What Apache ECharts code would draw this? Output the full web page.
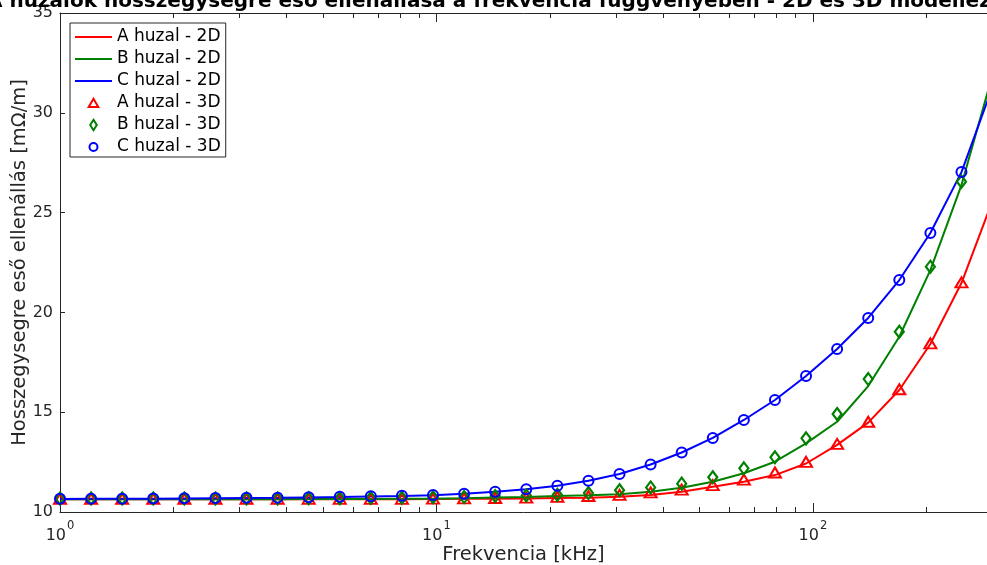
<!DOCTYPE html>
<html>
<head>
<meta charset="utf-8">
<script src="https://cdn.jsdelivr.net/npm/echarts@6/dist/echarts.min.js"></script>
<style>
html,body{margin:0;padding:0;background:#fff;overflow:hidden;}
#chart{width:987px;height:565px;}
</style>
</head>
<body>
<div id="chart"></div>
<script>
// Frequencies [kHz] (31 log-spaced points, 1 ... 300)
const freq = [1, 1.2094, 1.4627, 1.7690, 2.1395, 2.5874, 3.1291, 3.7845, 4.5771, 5.5352,
  6.6943, 8.0962, 9.7914, 11.842, 14.321, 17.321, 20.948, 25.335, 30.640, 37.056,
  44.814, 54.199, 65.548, 79.274, 95.875, 115.95, 140.23, 169.60, 205.11, 248.06, 300];

const a2D = [10.64, 10.64, 10.64, 10.64, 10.64, 10.64, 10.64, 10.64, 10.64, 10.64,
  10.64, 10.64, 10.65, 10.66, 10.67, 10.68, 10.70, 10.72, 10.76, 10.85,
  11.02, 11.27, 11.52, 11.85, 12.43, 13.36, 14.48, 16.11, 18.42, 21.47, 25.6];
const b2D = [10.64, 10.64, 10.64, 10.64, 10.64, 10.64, 10.64, 10.64, 10.65, 10.65,
  10.65, 10.66, 10.67, 10.69, 10.73, 10.75, 10.80, 10.84, 10.89, 11.02,
  11.22, 11.52, 11.94, 12.52, 13.44, 14.52, 16.31, 18.78, 22.12, 26.38, 31.9];
const c2D = [10.65, 10.66, 10.66, 10.67, 10.68, 10.69, 10.70, 10.71, 10.73, 10.75,
  10.78, 10.80, 10.84, 10.91, 11.01, 11.14, 11.32, 11.57, 11.90, 12.38,
  12.98, 13.71, 14.61, 15.61, 16.81, 18.17, 19.72, 21.62, 23.98, 27.03, 31.3];

const a3D = [10.66, 10.66, 10.66, 10.66, 10.66, 10.66, 10.66, 10.66, 10.66, 10.66,
  10.66, 10.66, 10.67, 10.68, 10.70, 10.72, 10.76, 10.80, 10.86, 10.98,
  11.12, 11.35, 11.62, 11.98, 12.51, 13.41, 14.52, 16.15, 18.45, 21.50, 25.7];
const b3D = [10.68, 10.68, 10.68, 10.68, 10.68, 10.68, 10.68, 10.68, 10.69, 10.69,
  10.70, 10.71, 10.74, 10.75, 10.80, 10.83, 10.86, 10.95, 11.09, 11.23,
  11.42, 11.74, 12.19, 12.74, 13.69, 14.91, 16.66, 19.03, 22.29, 26.55, 32.1];
const c3D = [10.66, 10.67, 10.67, 10.68, 10.69, 10.70, 10.71, 10.72, 10.74, 10.76,
  10.79, 10.81, 10.85, 10.91, 11.02, 11.14, 11.32, 11.57, 11.90, 12.38,
  12.98, 13.71, 14.61, 15.61, 16.81, 18.17, 19.72, 21.62, 23.98, 27.03, 31.3];

const majorTicks = [1, 10, 100];
const minorTicks = [2, 3, 4, 5, 6, 7, 8, 9, 20, 30, 40, 50, 60, 70, 80, 90, 200];
const yTicks = [10, 15, 20, 25, 30, 35];

const titleText = 'A huzalok hosszegysegre eső ellenállása a frekvencia függvényében - 2D és 3D modellezés';
const xName = 'Frekvencia [kHz]';
const yName = 'Hosszegysegre eső ellenállás [mΩ/m]';
const names = ['A huzal - 2D', 'B huzal - 2D', 'C huzal - 2D', 'A huzal - 3D', 'B huzal - 3D', 'C huzal - 3D'];

const RED = '#ff0000', GREEN = '#008000', BLUE = '#0000ff', AX = '#262626';
const FONT = 'DejaVu Sans';

// legend icon shapes (37 x 14 box; corner points fix the bounding box)
const BOX = 'M0,0L0,0.01M37,14L37,14.01';
const iconLine = 'path://' + BOX + 'M0,6H37V8H0Z';
const iconTri = 'path://' + BOX + 'M18.5,2.8L23.3,11L13.7,11Z';
const iconDia = 'path://' + BOX + 'M18.5,1.8L21.8,7L18.5,12.2L15.2,7Z';
const iconCir = 'path://' + BOX + 'M22.5,7A4,4 0 1 1 14.5,7A4,4 0 1 1 22.5,7Z';

function pairs(ys) { return freq.map((f, i) => [f, ys[i]]); }

function xAx(pos, ticks, len, showLine, showLabel) {
  return {
    type: 'log', logBase: 10, min: 1, max: 290, position: pos,
    axisLine: { show: showLine, lineStyle: { color: AX, width: 1 } },
    axisTick: { show: true, inside: true, length: len, customValues: ticks, lineStyle: { color: AX, width: 1 } },
    axisLabel: showLabel ? {
      show: true, customValues: majorTicks, margin: 8,
      formatter: v => '{b|10}{s|' + Math.round(Math.log10(v)) + '}',
      rich: {
        b: { fontSize: 16, fontFamily: FONT, color: AX, verticalAlign: 'bottom', lineHeight: 24 },
        s: { fontSize: 11.5, fontFamily: FONT, color: AX, verticalAlign: 'top', lineHeight: 10, padding: [0, 0, 0, 1] }
      }
    } : { show: false },
    splitLine: { show: false },
    minorTick: { show: false },
    name: showLabel ? xName : '',
    nameLocation: 'middle', nameGap: 33, nameMoveOverlap: false,
    nameTextStyle: { fontSize: 19.5, fontFamily: FONT, color: AX }
  };
}

const chart = echarts.init(document.getElementById('chart'), null, { renderer: 'canvas' });
chart.setOption({
  animation: false,
  backgroundColor: '#fff',
  title: {
    text: titleText, left: -13, top: -8, padding: 0,
    textStyle: { fontSize: 20, fontWeight: 'bold', fontFamily: FONT, color: '#000' }
  },
  grid: { left: 60, top: 13, right: 0, bottom: 53, containLabel: false, outerBoundsMode: 'none' },
  xAxis: [
    xAx('bottom', majorTicks, 9, true, true),
    xAx('bottom', minorTicks, 5, false, false),
    xAx('top', majorTicks, 9, true, false),
    xAx('top', minorTicks, 5, false, false)
  ],
  yAxis: {
    type: 'value', min: 10, max: 35, interval: 5,
    axisLine: { show: true, lineStyle: { color: AX, width: 1 } },
    axisTick: { show: true, inside: true, length: 5, customValues: yTicks, lineStyle: { color: AX } },
    axisLabel: { fontSize: 16, fontFamily: FONT, color: AX, margin: 7, customValues: yTicks },
    splitLine: { show: false },
    name: yName, nameLocation: 'middle', nameGap: 30, nameMoveOverlap: false,
    nameTextStyle: { fontSize: 19.5, fontFamily: FONT, color: AX }
  },
  legend: {
    orient: 'vertical', left: 70, top: 23,
    padding: [5.5, 5, 1.5, 4], itemGap: 5, itemWidth: 37, itemHeight: 14,
    backgroundColor: '#fff', borderColor: AX, borderWidth: 1, borderRadius: 0,
    textStyle: { fontSize: 17, lineHeight: 17, fontFamily: FONT, color: '#000' },
    data: [
      { name: names[0], icon: iconLine },
      { name: names[1], icon: iconLine },
      { name: names[2], icon: iconLine },
      { name: names[3], icon: iconTri },
      { name: names[4], icon: iconDia },
      { name: names[5], icon: iconCir }
    ]
  },
  series: [
    { name: names[0], type: 'line', data: pairs(a2D), symbol: 'none', lineStyle: { color: RED, width: 2 }, itemStyle: { color: RED }, z: 2 },
    { name: names[1], type: 'line', data: pairs(b2D), symbol: 'none', lineStyle: { color: GREEN, width: 2 }, itemStyle: { color: GREEN }, z: 2 },
    { name: names[2], type: 'line', data: pairs(c2D), symbol: 'none', lineStyle: { color: BLUE, width: 2 }, itemStyle: { color: BLUE }, z: 2 },
    { name: names[3], type: 'scatter', data: pairs(a3D), symbol: 'triangle', symbolSize: [12, 10], clip: true,
      itemStyle: { color: 'rgba(255,255,255,0)', borderColor: RED, borderWidth: 2, opacity: 1 }, z: 3 },
    { name: names[4], type: 'scatter', data: pairs(b3D), symbol: 'diamond', symbolSize: [9, 12], clip: true,
      itemStyle: { color: 'rgba(255,255,255,0)', borderColor: GREEN, borderWidth: 2.2, opacity: 1 }, z: 3 },
    { name: names[5], type: 'scatter', data: pairs(c3D), symbol: 'circle', symbolSize: 10, clip: true,
      itemStyle: { color: 'rgba(255,255,255,0)', borderColor: BLUE, borderWidth: 2, opacity: 1 }, z: 3 }
  ]
});
</script>
</body>
</html>
